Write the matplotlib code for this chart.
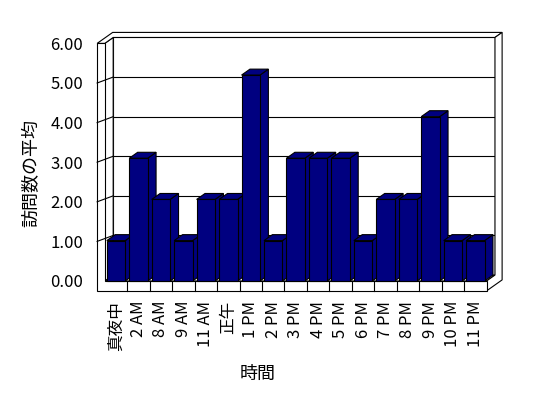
import matplotlib.pyplot as plt
from matplotlib.patches import Polygon

plt.rcParams['font.family'] = ['Noto Sans CJK JP', 'DejaVu Sans']

# data
hours = ["真夜中", "2 AM", "8 AM", "9 AM", "11 AM", "正午", "1 PM", "2 PM", "3 PM",
         "4 PM", "5 PM", "6 PM", "7 PM", "8 PM", "9 PM", "10 PM", "11 PM"]
avg_visits = [1.02, 3.1, 2.06, 1.02, 2.06, 2.06, 5.2, 1.02, 3.1,
              3.1, 3.1, 1.02, 2.06, 2.06, 4.15, 1.02, 1.02]
y_ticks = [0, 1, 2, 3, 4, 5, 6]
y_tick_labels = ["0.00", "1.00", "2.00", "3.00", "4.00", "5.00", "6.00"]

NAVY = "#000080"
LW = 0.8
# oblique depth direction (in data units) and wall sizes
DX, DY = 0.374, 0.15
WALL = 0.34      # left wall thickness
FLOOR = 0.25     # floor thickness
BACK = 1.85      # depth incl. back wall thickness


def P(x, y, z):
    return (x + z * DX, y + z * DY)


def face(ax, pts, fc="white", z=1):
    ax.add_patch(Polygon(pts, closed=True, facecolor=fc, edgecolor="black",
                         lw=LW, zorder=z, joinstyle="miter"))


fig = plt.figure(figsize=(5.48, 3.98), dpi=100)
ax = fig.add_axes([0.1666, 0.2542, 0.7582, 0.6865])
ax.set_xlim(-0.6, 17.9)
ax.set_ylim(-0.4, 6.5)
for s in ax.spines.values():
    s.set_visible(False)

n = len(hours)
top = y_ticks[-1]

# back wall front face + gridlines
face(ax, [P(0, 0, 1), P(n, 0, 1), P(n, top, 1), P(0, top, 1)], z=1)
for v in y_ticks[1:-1]:
    (x0, y0), (x1, y1) = P(0, v, 1), P(n, v, 1)
    ax.plot([x0, x1], [y0, y1], color="black", lw=LW, zorder=2)

# floor top and left wall inner face
face(ax, [P(0, 0, 0), P(n, 0, 0), P(n, 0, 1), P(0, 0, 1)], z=3)
face(ax, [P(0, 0, 0), P(0, top, 0), P(0, top, 1), P(0, 0, 1)], z=3)

# top of the walls (L shape) and right side
face(ax, [P(-WALL, top, 0), P(0, top, 0), P(0, top, 1), P(n, top, 1),
          P(n, top, BACK), P(-WALL, top, BACK)], z=4)
face(ax, [P(n, -FLOOR, 0), P(n, 0, 0), P(n, 0, 1), P(n, top, 1),
          P(n, top, BACK), P(n, -FLOOR, BACK)], z=4)

# front faces of left wall and floor
face(ax, [P(-WALL, -FLOOR, 0), P(n, -FLOOR, 0), P(n, 0, 0), P(0, 0, 0),
          P(0, top, 0), P(-WALL, top, 0)], z=5)
for i in range(1, n):
    ax.plot([i, i], [-FLOOR, 0], color="black", lw=LW, zorder=6)
for v in y_ticks[1:-1]:
    (x0, y0), (x1, y1) = P(-WALL, v, 0), P(0, v, 1)
    ax.plot([x0, x1], [y0, y1], color="black", lw=LW, zorder=6)

# bars: side and top as polygons, front from ax.bar
width = 0.82
bars = ax.bar([i + 0.5 for i in range(n)], avg_visits, width=width,
              color=NAVY, edgecolor="black", linewidth=LW)
for i, (rect, v) in enumerate(zip(bars, avg_visits)):
    x0 = i + 0.5 - width / 2
    x1 = i + 0.5 + width / 2
    face(ax, [P(x1, 0, 0), P(x1, v, 0), P(x1, v, 1), P(x1, 0, 1)], NAVY, 10 + 2 * i)
    face(ax, [P(x0, v, 0), P(x1, v, 0), P(x1, v, 1), P(x0, v, 1)], NAVY, 10 + 2 * i)
    rect.set_zorder(11 + 2 * i)

ax.set_yticks(y_ticks)
ax.set_yticklabels(y_tick_labels, fontsize=12)
ax.set_xticks([i + 0.5 for i in range(n)])
ax.set_xticklabels(hours, rotation=90, fontsize=12)
ax.tick_params(axis="y", length=0, pad=6)
ax.tick_params(axis="x", length=0, pad=3)

fig.text(31.7 / 548, 1 - 173 / 398, "訪問数の平均", rotation=90,
         ha="center", va="center", fontsize=13)
fig.text(258 / 548, 1 - 374 / 398, "時間", ha="center", va="center", fontsize=13)

fig.savefig("out.png", dpi=100, facecolor="white")
